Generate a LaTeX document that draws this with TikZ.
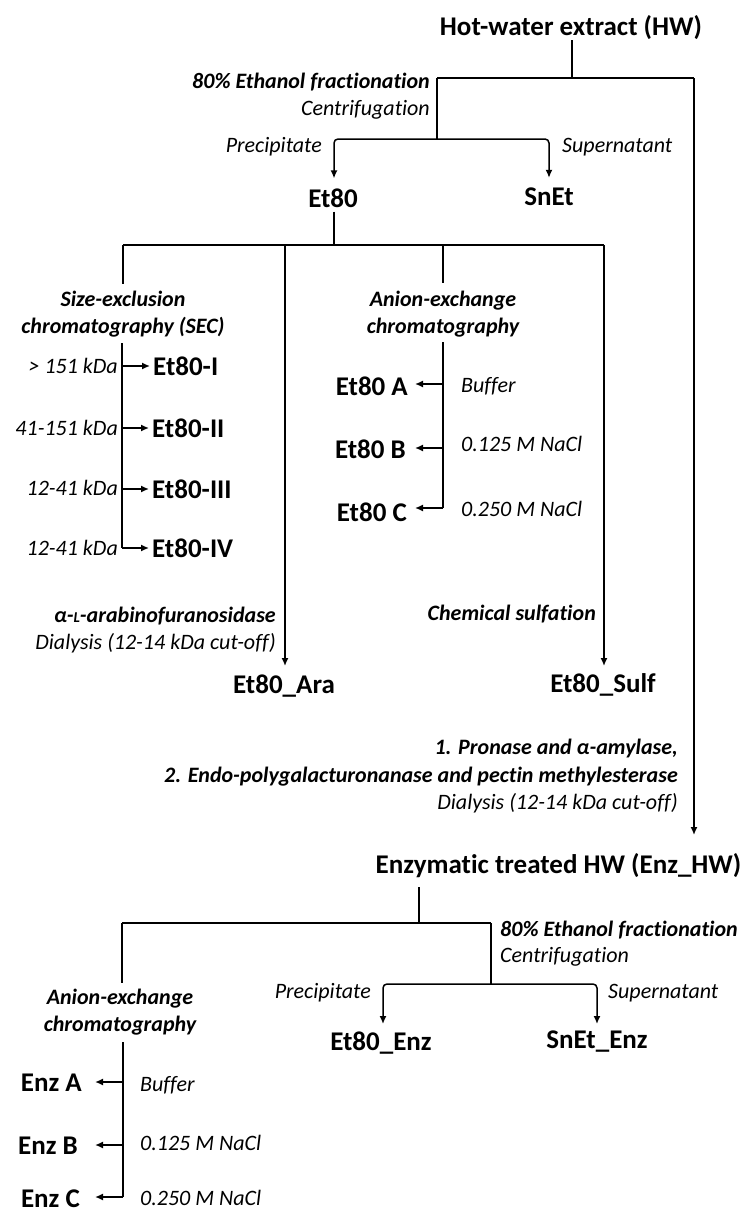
\documentclass[tikz,border=0pt]{standalone}
\usepackage{fontspec}
\setmainfont[Ligatures=NoCommon]{Carlito}
\usetikzlibrary{arrows.meta}
\begin{document}
\begin{tikzpicture}[x=1pt,y=-1pt,
  ln/.style={line width=1.5pt},
  arr/.style={ln,-{Latex[length=8pt,width=7pt]}},
  big/.style={inner sep=0pt,font=\fontsize{27}{32}\selectfont\bfseries},
  it/.style={inner sep=0pt,font=\fontsize{22}{27}\selectfont\itshape},
  bit/.style={inner sep=0pt,font=\fontsize{22}{27}\selectfont\bfseries\itshape},
]
\useasboundingbox (0,0) rectangle (751,1218);

% ---------- top ----------
\node[big] (hw) at (571,28) {Hot-water extract (HW)};
\coordinate (t1) at (572,78);
\coordinate (tl) at (437,78);
\coordinate (tr) at (694,78);
\coordinate (t2) at (437,139);
\draw[ln] (hw.south -| t1) -- (t1);
\draw[ln] (tl) -- (tr);
\draw[ln] (tl) -- (t2);
\node[bit, anchor=east] (eth1) at (430,82) {80\% Ethanol fractionation};
\node[it, anchor=east] (cen1) at (430,110) {Centrifugation};
\node[big] (et80) at (333,198) {Et80};
\node[big] (snet) at (549,197) {SnEt};
\node[it, anchor=east] (pre1) at (322,147) {Precipitate};
\node[it, anchor=west] (sup1) at (562,147) {Supernatant};
\draw[arr, rounded corners=4pt, shorten >=10pt] (t2) -- (334,139) -- (et80.north -| 334,0);
\draw[arr, rounded corners=4pt, shorten >=10pt] (t2) -- (549,139) -- (snet.north);

% ---------- Et80 branches ----------
\coordinate (b0) at (334,245);
\coordinate (bL) at (123,245);
\coordinate (bR) at (604,245);
\coordinate (bA) at (285,245);
\coordinate (bX) at (443,245);
\draw[ln, shorten <=4pt] (et80.south -| b0) -- (b0);
\draw[ln] (bL) -- (bR);

% SEC
\node[bit, align=center] (sec) at (123,314.5) {Size-exclusion\\chromatography (SEC)};
\draw[ln] (bL) -- (123,284);
\coordinate (s0) at (122,343);
\coordinate (s1) at (122,366);
\coordinate (s2) at (122,428);
\coordinate (s3) at (122,489);
\coordinate (s4) at (122,548);
\draw[ln] (s0) -- (s4);
\node[big, anchor=west] (e1) at (153,366) {Et80-I};
\node[big, anchor=west] (e2) at (152,428) {Et80-II};
\node[big, anchor=west] (e3) at (152,489) {Et80-III};
\node[big, anchor=west] (e4) at (152,548) {Et80-IV};
\foreach \s/\e in {s1/e1,s2/e2,s3/e3,s4/e4}
  \draw[arr, shorten >=3pt] (\s) -- (\e.west);
\node[it, anchor=east] (k1) at (118,366) {> 151 kDa};
\node[it, anchor=east] (k2) at (118,428) {41-151 kDa};
\node[it, anchor=east] (k3) at (118,488) {12-41 kDa};
\node[it, anchor=east] (k4) at (118,548) {12-41 kDa};

% Anion exchange (Et80)
\node[bit, align=center] (aex) at (443,314.5) {Anion-exchange\\chromatography};
\draw[ln] (bX) -- (443,283);
\coordinate (x0) at (443,342);
\coordinate (x1) at (443,384);
\coordinate (x2) at (443,448);
\coordinate (x3) at (443,508);
\draw[ln] (x0) -- (x3);
\node[big, anchor=east] (ea) at (408,386) {Et80 A};
\node[big, anchor=east] (eb) at (406,449) {Et80 B};
\node[big, anchor=east] (ec) at (407,512) {Et80 C};
\draw[arr] (x1) -- (415,384);
\draw[arr] (x2) -- (415,448);
\draw[arr] (x3) -- (415,508);
\node[it, anchor=west] (l1) at (461,386) {Buffer};
\node[it, anchor=west] (l2) at (461,444) {0.125 M NaCl};
\node[it, anchor=west] (l3) at (461,509) {0.250 M NaCl};

% Ara / Sulf
\node[big] (ara) at (284,686) {Et80\_Ara};
\node[big] (sulf) at (603,685) {Et80\_Sulf};
\draw[arr] (bA) -- (285,666);
\draw[arr] (bR) -- (604,666);
\node[bit, anchor=east] (arab) at (276,616) {α-{\fontsize{15}{15}\selectfont L}-arabinofuranosidase};
\node[it, anchor=east] (dia1) at (276,643) {Dialysis (12-14 kDa cut-off)};
\node[bit, anchor=east] (chem) at (596,614) {Chemical sulfation};

% Enzymatic
\node[bit, anchor=east] (p1) at (678,749) {1. Pronase and α-amylase,};
\node[bit, anchor=east] (p2) at (678,777) {2. Endo-polygalacturonanase and pectin methylesterase};
\node[it, anchor=east] (dia2) at (678,803) {Dialysis (12-14 kDa cut-off)};
\node[big] (enz) at (558.5,866) {Enzymatic treated HW (Enz\_HW)};
\draw[arr] (tr) -- (694,835);

\coordinate (u1) at (419,923);
\coordinate (uL) at (122,923);
\coordinate (uR) at (491,923);
\coordinate (u2) at (491,984);
\draw[ln] (419,887) -- (u1);
\draw[ln] (uL) -- (uR);
\draw[ln] (uR) -- (u2);
\node[bit, anchor=west] (eth2) at (500,930) {80\% Ethanol fractionation};
\node[it, anchor=west] (cen2) at (500,957) {Centrifugation};
\node[it, anchor=east] (pre2) at (371,993) {Precipitate};
\node[it, anchor=west] (sup2) at (608,993) {Supernatant};
\node[big] (eenz) at (381,1043) {Et80\_Enz};
\node[big] (senz) at (597,1042) {SnEt\_Enz};
\draw[arr, rounded corners=4pt] (u2) -- (383,984) -- (383,1024);
\draw[arr, rounded corners=4pt] (u2) -- (597,984) -- (597,1024);

% Anion exchange (Enz)
\node[bit, align=center] (aex2) at (120,1012.5) {Anion-exchange\\chromatography};
\draw[ln] (uL) -- (122,983);
\coordinate (y0) at (123,1042);
\coordinate (y1) at (123,1082);
\coordinate (y2) at (123,1145);
\coordinate (y3) at (123,1197);
\draw[ln] (y0) -- (y3);
\node[big, anchor=east] (za) at (82,1083) {Enz A};
\node[big, anchor=east] (zb) at (78,1146) {Enz B};
\node[big, anchor=east] (zc) at (80,1199) {Enz C};
\draw[arr] (y1) -- (95,1082);
\draw[arr] (y2) -- (95,1145);
\draw[arr] (y3) -- (95,1197);
\node[it, anchor=west] (m1) at (140,1085) {Buffer};
\node[it, anchor=west] (m2) at (140,1143) {0.125 M NaCl};
\node[it, anchor=west] (m3) at (140,1198) {0.250 M NaCl};
\end{tikzpicture}
\end{document}
